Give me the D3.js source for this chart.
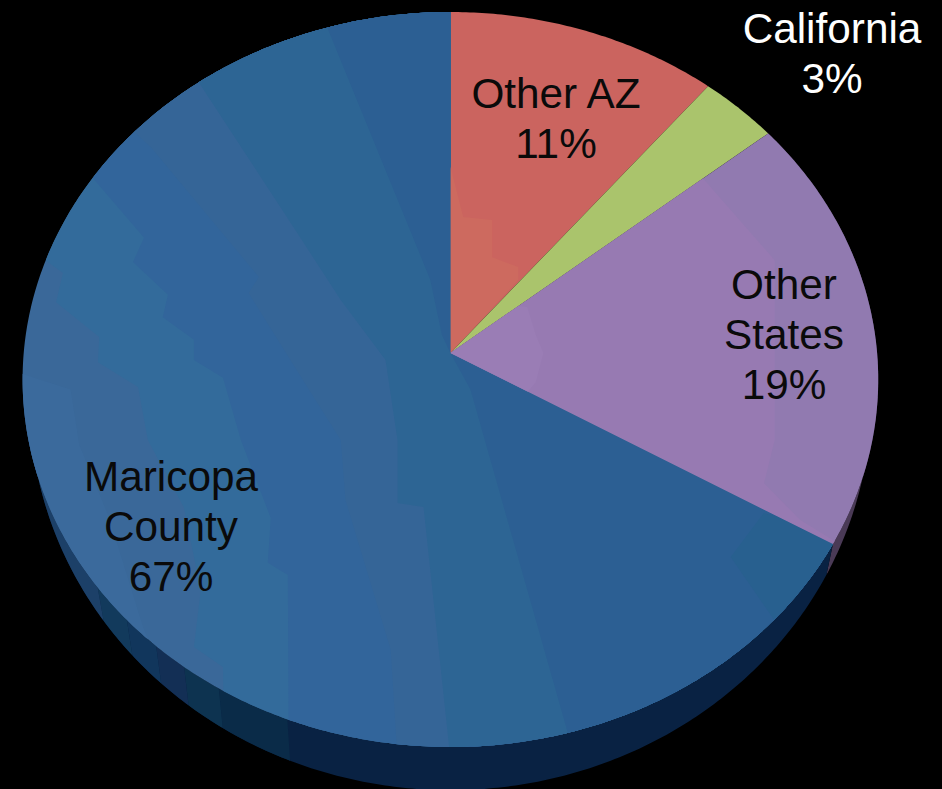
<!DOCTYPE html>
<html>
<head>
<meta charset="utf-8">
<script src="https://cdn.jsdelivr.net/npm/d3@7"></script>
<style>
  html, body { margin: 0; padding: 0; background: #000; overflow: hidden; }
  svg { display: block; }
  text { font-family: "Liberation Sans", Arial, sans-serif; font-size: 42.3px; text-anchor: middle; }
</style>
</head>
<body>
<svg id="chart" width="942" height="789"></svg>
<script>
// ---- data ----
const categories = ["Other AZ", "California", "Other States", "Maricopa County"];
const shares = [11, 3.2, 19.2, 66.6];          // drawn size of each slice
const shareLabels = ["11%", "3%", "19%", "67%"];

// ---- styles ----
const topColors = ["#cb645f", "#aac46c", "#917ab0", "#3a6899"];
const wallColors = [null, null, "#4a3a56", "#092243"];   // the first two walls face away
const labelColors = ["#0a0a0a", "#ffffff", "#0a0a0a", "#0a0a0a"];
const labelLines = [["Other AZ"], ["California"], ["Other", "States"], ["Maricopa", "County"]];
const labelCentre = [[556, 108], [832, 43], [784, 299], [171, 491]];
const lineGap = 50;

// Darker stretches of the Maricopa side wall: [from %, to %, colour]
const wallFacets = [
  [55.8, 58.5, "#0a2b48"], [58.5, 60, "#0d3350"], [60, 61.3, "#132f55"],
  [61.3, 62.8, "#11365c"], [62.8, 64.5, "#123a5c"], [64.5, 71, "#1c4068"]
];

// Faint lighting facets on the top face, in disc units (-1..1), each clipped to a slice.
const far = 1.3;
const facets = [
  { slice: 3, fill: "#3b6a9c", pts: [[-1.1,0.02],[-.89,.1],[-.87,.25],[-.8,.45],[-.72,.75],[-.6,1.1],[-1.1,1.1]] },
  { slice: 3, fill: "#336b9b", pts: [[-1.05,-.34],[-.908,-.219],[-.924,-.139],[-.823,-.044],[-.826,.025],[-.732,.093],[-.709,.238],[-.625,.421],[-.585,.648],[-.601,.804],[-.533,.859],[-.53,1.1],[far,far],[far,-far],[-1.05,-far]] },
  { slice: 3, fill: "#32659b", pts: [[-.92,-.59],[-.718,-.315],[-.744,-.249],[-.662,-.159],[-.674,-.098],[-.601,-.036],[-.601,.019],[-.533,.068],[-.491,.238],[-.421,.451],[-.428,.574],[-.381,.607],[-.379,1.1],[far,far],[far,-far],[-.92,-far]] },
  { slice: 3, fill: "#356597", pts: [[-.772,-.637],[-.702,-.563],[-.449,-.208],[-.473,-.164],[-.327,.109],[-.257,.238],[-.246,.402],[-.14,.812],[-.124,1.11],[far,far],[far,-far],[-.772,-far]] },
  { slice: 3, fill: "#2d6594", pts: [[-.64,-.83],[-.386,-.377],[-.257,-.145],[-.152,.019],[-.124,.238],[-.124,.41],[-.063,.421],[0,1.11],[far,far],[far,-far],[-.64,-far]] },
  { slice: 3, fill: "#2c5f93", pts: [[-.32,-.98],[-.047,-.2],[-.02,-.05],[0,0],[.047,.1],[.29,1.1],[far,far],[far,-far],[-.32,-far]] },
  { slice: 3, fill: "#28608f", pts: [[1,.5],[.8,.8],[.657,.558],[.734,.438]] },
  { slice: 0, fill: "#cd6a5f", pts: [[0,-.51],[.03,-.372],[.098,-.364],[.098,-.262],[.159,-.235],[.159,-.2],[0,0]] },
  { slice: 2, fill: "#977ab2", pts: [[.585,-.487],[.76,-.254],[.76,.128],[.76,.238],[.735,.356],[.82,.457],[.95,.55],[0,.6],[0,-.6]] },
  { slice: 2, fill: "#9a7db5", pts: [[.18,-.126],[.2,-.05],[.218,0],[.2,.08],[.15,.15],[0,.15],[0,-.15]] }
];

// ---- geometry: the tilted disc, seen in perspective ----
const tilt = -0.0721;
const apexX = d3.scaleLinear().domain([-1, 1]).range([450.4 - 426.7, 450.4 + 426.7]);
const apexY = d3.scaleLinear().domain([-1, 1]).range([353 - 365.6, 353 + 365.6]);
const lowX = d3.scaleLinear().domain([-1, 1]).range([450.4 - 419.5, 450.4 + 419.5]);
const lowY = d3.scaleLinear().domain([-1, 1]).range([372 - 388, 372 + 388]);

function project(angle, sx, sy) {
  const u = Math.sin(angle), v = -Math.cos(angle), w = 1 + tilt * v;
  return [sx(u / w), sy(v / w)];
}
const rimTop = a => project(a, apexX, apexY);
const rimLow = a => project(a, lowX, lowY);
const pctAngle = d3.scaleLinear().domain([0, 100]).range([0, 2 * Math.PI]);
const pathLine = d3.line().curve(d3.curveLinear);
const angles = (a0, a1) => {
  const n = Math.max(2, Math.ceil((a1 - a0) / 0.01));
  return d3.range(n + 1).map(i => a0 + (a1 - a0) * i / n);
};

const pie = d3.pie().sort(null).startAngle(0).endAngle(2 * Math.PI);
const arcs = pie(shares);

const svg = d3.select("#chart");
const defs = svg.append("defs");

const slicePath = d => pathLine([[apexX(0), apexY(0)], ...angles(d.startAngle, d.endAngle).map(rimTop)]) + "Z";
const ribbon = (a0, a1) => {
  const as = angles(a0, a1);
  return pathLine([...as.map(rimTop), ...as.slice().reverse().map(rimLow)]) + "Z";
};

// side wall: only the part of the disc that faces the viewer, up to the far rim
svg.append("g").selectAll("path").data(arcs.filter((d, i) => wallColors[i])).join("path")
  .attr("d", d => ribbon(d.startAngle, Math.min(d.endAngle, pctAngle(72))))
  .attr("fill", d => wallColors[d.index]);

svg.append("g").selectAll("path").data(wallFacets).join("path")
  .attr("d", d => ribbon(pctAngle(d[0]), pctAngle(d[1])))
  .attr("fill", d => d[2]);

// top face
defs.selectAll("clipPath").data(arcs).join("clipPath")
  .attr("id", (d, i) => "slice" + i)
  .append("path").attr("d", slicePath);

svg.append("g").selectAll("path").data(arcs).join("path")
  .attr("d", slicePath)
  .attr("fill", (d, i) => topColors[i]);

const facetLine = d3.line().x(p => apexX(p[0])).y(p => apexY(p[1]));
svg.append("g").selectAll("path").data(facets).join("path")
  .attr("clip-path", d => `url(#slice${d.slice})`)
  .attr("d", d => facetLine(d.pts) + "Z")
  .attr("fill", d => d.fill);

// labels
const labels = svg.append("g").selectAll("text").data(categories).join("text")
  .attr("fill", (d, i) => labelColors[i]);
labels.each(function (d, i) {
  const rows = [...labelLines[i], shareLabels[i]];
  d3.select(this).selectAll("tspan").data(rows).join("tspan")
    .attr("x", labelCentre[i][0])
    .attr("y", (r, j) => labelCentre[i][1] + j * lineGap)
    .text(r => r);
});
</script>
</body>
</html>
